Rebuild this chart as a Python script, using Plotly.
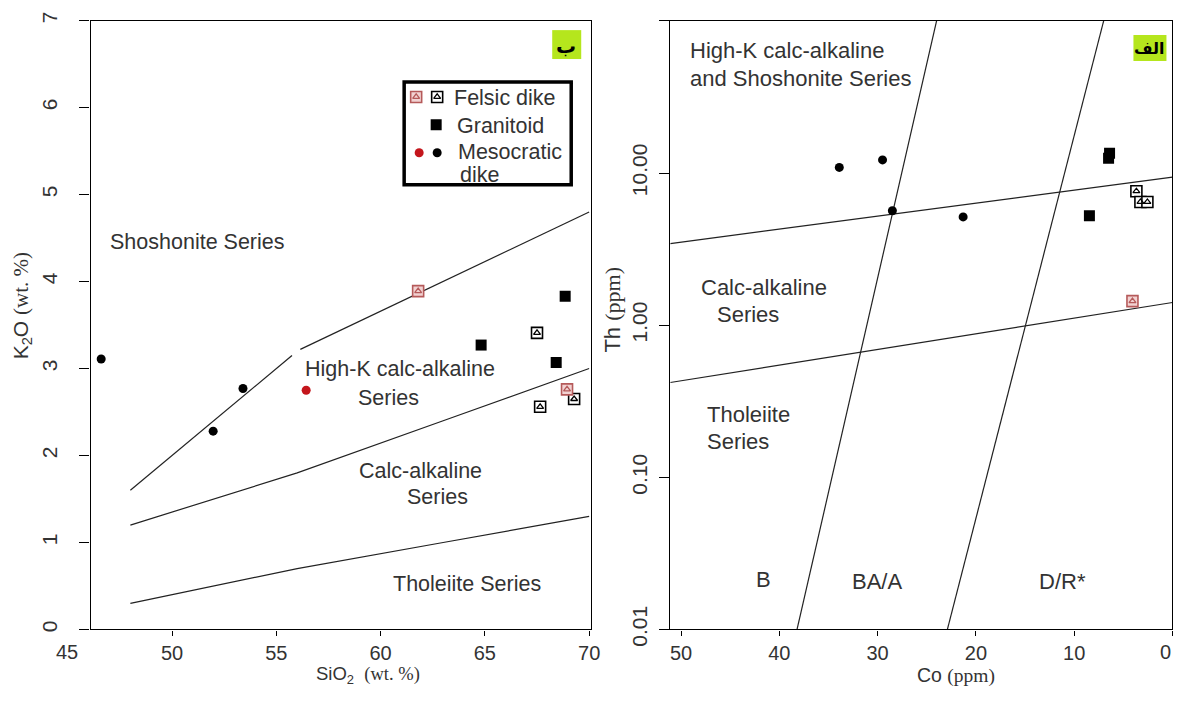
import plotly.graph_objects as go

W, H = 1182, 701

# ---------------- Left diagram: SiO2 vs K2O ----------------
felsic_si = [67.5, 67.65, 69.28]
felsic_k2o = [3.41, 2.56, 2.65]
felsic_red_si = [61.8, 68.94]
felsic_red_k2o = [3.89, 2.76]
granitoid_si = [64.82, 68.85, 68.42]
granitoid_k2o = [3.27, 3.83, 3.07]
meso_si = [46.6, 51.97, 53.4]
meso_k2o = [3.11, 2.28, 2.77]
meso_red_si = [56.43]
meso_red_k2o = [2.75]

# series boundaries (Peccerillo & Taylor)
sho_low_si = [48, 55.75]
sho_low_k2o = [1.6, 3.15]
sho_high_si = [56.15, 70]
sho_high_k2o = [3.22, 4.8]
hk_si = [48, 52, 56, 63, 70]
hk_k2o = [1.2, 1.5, 1.8, 2.4, 3.0]
tho_si = [48, 52, 56, 63, 70]
tho_k2o = [0.3, 0.5, 0.7, 1.0, 1.3]

left_xticks = [50, 55, 60, 65, 70]
left_yticks = [0, 1, 2, 3, 4, 5, 6, 7]

# ---------------- Right diagram: Co vs Th ----------------
meso_co = [33.9, 29.5, 28.5, 21.3]
meso_th = [10.9, 12.2, 5.65, 5.15]
granitoid_co = [6.4, 6.5, 8.45]
granitoid_th = [13.5, 12.5, 5.24]
felsic_co = [3.67, 3.26, 2.55]
felsic_th = [7.6, 6.46, 6.46]
felsic_red_co = [4.07]
felsic_red_th = [1.44]

hkca_co = [51.1, 0]
hkca_th = [3.44, 9.4]
catho_co = [51.1, 0]
catho_th = [0.42, 1.41]
b_ba_co = [38.2, 24.0]
b_ba_th = [0.01, 100]
ba_dr_co = [22.9, 7.0]
ba_dr_th = [0.01, 100]

right_xticks = [50, 40, 30, 20, 10, 0]
right_xticktext = ["50", "40", "30", "20", "10", ""]
right_yticks = [0.01, 0.1, 1, 10, 100]
right_yticktext = ["0.01", "0.10", "1.00", "10.00", "100.00"]

SANS = "Liberation Sans, Arial, sans-serif"
TXT = "#333333"
RED_EDGE = "#b55a5a"
RED_FILL = "#f2d2d2"
RED_DOT = "#c4161c"

# target pixel geometry of the two plot frames (as seen in the reference)
L_X0, L_X1 = 90.5, 591
R_X0, R_X1 = 670, 1172
F_Y0, F_Y1 = 627, 16.5
L_XR = [46.09, 70.1]
L_YR = [0, 7]

# the captured picture shows the page slightly reduced
SX, SY = 0.992, 0.973


def tx(x):
    return x / SX


def ty(y):
    # small extra lift toward the top edge
    return y / SY - 5.0 * max(0.0, 1 - y / 630.0)


def px(x):
    return min(tx(x) / W, 1.0)


def py(y):
    return min(max(1 - ty(y) / H, 0.0), 1.0)


def lpix(x, y):
    """target pixel -> left-panel data coordinates (for legend keys)"""
    sx0, sx1 = tx(L_X0), tx(L_X1)
    sy0, sy1 = ty(F_Y0), ty(F_Y1)
    dx = L_XR[0] + (tx(x) - sx0) / (sx1 - sx0) * (L_XR[1] - L_XR[0])
    dy = L_YR[0] + (sy0 - ty(y)) / (sy0 - sy1) * (L_YR[1] - L_YR[0])
    return dx, dy


fig = go.Figure()


def line(xs, ys, xa, ya):
    fig.add_trace(go.Scatter(x=xs, y=ys, mode="lines", xaxis=xa, yaxis=ya,
                             line=dict(color="#222222", width=1.2),
                             showlegend=False, hoverinfo="skip"))


def felsic(xs, ys, xa, ya, red=False):
    edge = RED_EDGE if red else "black"
    fill = RED_FILL if red else "white"
    fig.add_trace(go.Scatter(x=xs, y=ys, mode="markers", xaxis=xa, yaxis=ya,
                             marker=dict(symbol="square", size=11, color=fill,
                                         line=dict(color=edge, width=1.6)),
                             showlegend=False, hoverinfo="skip"))
    fig.add_trace(go.Scatter(x=xs, y=ys, mode="markers", xaxis=xa, yaxis=ya,
                             marker=dict(symbol="triangle-up-open", size=6,
                                         color=edge, line=dict(color=edge, width=1.3)),
                             showlegend=False, hoverinfo="skip"))


def squares(xs, ys, xa, ya):
    fig.add_trace(go.Scatter(x=xs, y=ys, mode="markers", xaxis=xa, yaxis=ya,
                             marker=dict(symbol="square", size=11, color="black"),
                             showlegend=False, hoverinfo="skip"))


def dots(xs, ys, xa, ya, color="black"):
    fig.add_trace(go.Scatter(x=xs, y=ys, mode="markers", xaxis=xa, yaxis=ya,
                             marker=dict(symbol="circle", size=9, color=color),
                             showlegend=False, hoverinfo="skip"))


# left
line(sho_low_si, sho_low_k2o, "x", "y")
line(sho_high_si, sho_high_k2o, "x", "y")
line(hk_si, hk_k2o, "x", "y")
line(tho_si, tho_k2o, "x", "y")
dots(meso_si, meso_k2o, "x", "y")
dots(meso_red_si, meso_red_k2o, "x", "y", RED_DOT)
squares(granitoid_si, granitoid_k2o, "x", "y")
felsic(felsic_si, felsic_k2o, "x", "y")
felsic(felsic_red_si, felsic_red_k2o, "x", "y", red=True)

# right
line(hkca_co, hkca_th, "x2", "y2")
line(catho_co, catho_th, "x2", "y2")
line(b_ba_co, b_ba_th, "x2", "y2")
line(ba_dr_co, ba_dr_th, "x2", "y2")
dots(meso_co, meso_th, "x2", "y2")
squares(granitoid_co, granitoid_th, "x2", "y2")
felsic(felsic_co, felsic_th, "x2", "y2")
felsic(felsic_red_co, felsic_red_th, "x2", "y2", red=True)

# legend keys (placed inside the legend box)
k = lpix(416, 93); felsic([k[0]], [k[1]], "x", "y", red=True)
k = lpix(437, 93); felsic([k[0]], [k[1]], "x", "y")
k = lpix(436, 121); squares([k[0]], [k[1]], "x", "y")
k = lpix(419, 149); dots([k[0]], [k[1]], "x", "y", RED_DOT)
k = lpix(437, 149); dots([k[0]], [k[1]], "x", "y")

common = dict(showline=True, mirror=True, linecolor="black", linewidth=1.2,
              ticks="outside", tickcolor="black", tickwidth=1.2,
              showgrid=False, zeroline=False)
xtick = dict(ticklen=5, ticklabelstandoff=0, tickfont=dict(family=SANS, size=20, color=TXT))
ytick = dict(ticklen=10, tickangle=-90, tickfont=dict(family=SANS, size=21, color=TXT))

fig.update_layout(
    width=W, height=H,
    margin=dict(l=0, r=0, t=0, b=0),
    paper_bgcolor="white", plot_bgcolor="white",
    showlegend=False,
    xaxis=dict(domain=[px(L_X0), px(L_X1)], range=L_XR, tickvals=left_xticks,
               anchor="y", **common, **xtick),
    yaxis=dict(domain=[py(F_Y0), py(F_Y1)], range=L_YR, tickvals=left_yticks,
               ticklabelstandoff=14, anchor="x", **common, **ytick),
    xaxis2=dict(domain=[px(R_X0), px(R_X1)], range=[51.1, 0],
                tickvals=right_xticks, ticktext=right_xticktext,
                anchor="y2", **common, **xtick),
    yaxis2=dict(domain=[py(F_Y0), py(F_Y1)], type="log", range=[-2, 2.002],
                tickvals=right_yticks, ticktext=right_yticktext,
                ticklabelstandoff=4, anchor="x2", **common, **ytick),
)


def note(text, x, y, size=21.5, xanchor="center", family=SANS, color=TXT, angle=0):
    fig.add_annotation(text=text, x=px(x), y=py(y), xref="paper", yref="paper",
                       showarrow=False, xanchor=xanchor, yanchor="middle",
                       textangle=angle, font=dict(family=family, size=size, color=color))


# axis titles
serif_span = "<span style='font-family:Liberation Serif, Times New Roman, serif'>{}</span>"
note("SiO<sub>2</sub>  " + serif_span.format("(wt. %)"), 368, 673, size=18.5)
note("K<sub>2</sub>O " + serif_span.format("(wt. %)"), 22, 303, size=21, angle=-90)
note("Co " + serif_span.format("(ppm)"), 956, 673, size=19.5)
note("Th " + serif_span.format("(ppm)"), 612, 306, size=22, angle=-90)

# tick labels drawn outside the axis ranges
note("45", 67, 650, size=20)
fig.add_annotation(text="0", x=1.0, y=py(650), xref="paper", yref="paper",
                   showarrow=False, xanchor="right", yanchor="middle",
                   font=dict(family=SANS, size=20, color=TXT))

# left region labels
note("Shoshonite Series", 197, 238)
note("High-K calc-alkaline", 400, 366)
note("Series", 388, 395)
note("Calc-alkaline", 420, 468)
note("Series", 437, 494)
note("Tholeiite Series", 467, 581)

# right region labels
note("High-K calc-alkaline", 688, 46, size=22, xanchor="left")
note("and Shoshonite Series", 688, 75, size=22, xanchor="left")
note("Calc-alkaline", 764, 284, size=22)
note("Series", 748, 311, size=22)
note("Tholeiite", 748, 411, size=22)
note("Series", 738, 439, size=22)
note("B", 763, 577, size=22)
note("BA/A", 877, 579, size=22)
note("D/R*", 1062, 579, size=22)

# legend frame and texts
fig.add_shape(type="rect", xref="paper", yref="paper",
              x0=px(404), x1=px(571), y0=py(181), y1=py(78),
              line=dict(color="black", width=3.5), fillcolor="rgba(0,0,0,0)")
note("Felsic dike", 452, 94, xanchor="left")
note("Granitoid", 455, 122, xanchor="left")
note("Mesocratic", 456, 148, xanchor="left")
note("dike", 458, 171, xanchor="left")

# Arabic panel labels
GREEN = "#b5e61d"
fig.add_shape(type="rect", xref="paper", yref="paper", x0=px(552), x1=px(581),
              y0=py(55), y1=py(26), line=dict(width=0), fillcolor=GREEN)
note("<b>ب</b>", 566, 42, size=20, family="DejaVu Sans", color="black")
fig.add_shape(type="rect", xref="paper", yref="paper", x0=px(1133), x1=px(1166),
              y0=py(57), y1=py(31), line=dict(width=0), fillcolor=GREEN)
note("<b>الف</b>", 1149, 44, size=16, family="DejaVu Sans", color="black")

fig.write_html("out.html")
